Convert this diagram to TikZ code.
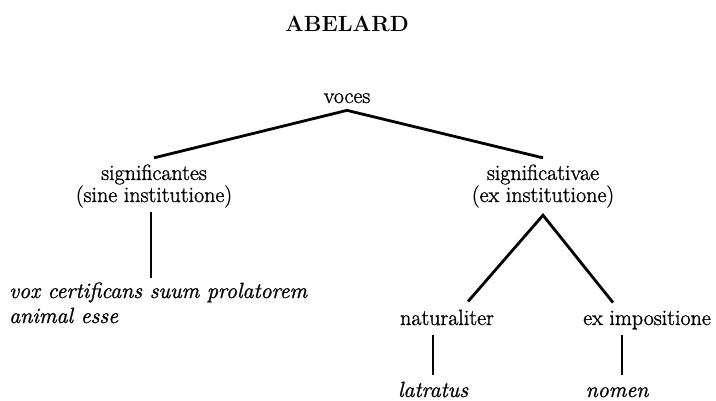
\documentclass[tikz,border=0pt]{standalone}
\usepackage{fontspec}
\setmainfont{Latin Modern Roman}[
  UprightFeatures={FakeBold=1.2},
  ItalicFeatures={FakeBold=1.2}]
\begin{document}
\begin{tikzpicture}[x=1pt,y=-1pt,
  every node/.style={inner sep=0pt, align=center},
  label text/.style={font=\fontsize{22}{22}\selectfont},
  leaf text/.style={font=\fontsize{22}{25}\selectfont\itshape},
  title text/.style={font=\fontsize{22}{24}\selectfont\bfseries},
  branch/.style={line width=2.8pt}]
\useasboundingbox (0,0) rectangle (716,401);

% heading
\node[title text, anchor=base] (title) at (347,32) {ABELARD};

% tree nodes (anchor base = baseline of the last line)
\node[label text, anchor=base] (voces) at (347,103) {voces};
\node[label text, anchor=base] (sig) at (154,202) {significantes\\(sine institutione)};
\node[label text, anchor=base] (sigv) at (543,202) {significativae\\(ex institutione)};
\node[leaf text, anchor=base west, align=left] (vox) at (9,323) {vox certificans suum prolatorem\\animal esse};
\node[label text, anchor=base] (nat) at (447,325) {naturaliter};
\node[label text, anchor=base] (exi) at (647,325) {ex impositione};
\node[leaf text, anchor=base] (latr) at (433,397) {latratus};
\node[leaf text, anchor=base] (nomen) at (617,397) {nomen};

% upper ends of the short vertical stems
\coordinate (voxtop) at ([xshift=-3pt,yshift=4pt]sig.south |- vox.north);
\coordinate (nomtop) at ([xshift=5pt,yshift=12.5pt]nomen.north);

% branches
\draw[branch] ([yshift=6.5pt]sig.north) -- ([yshift=-7pt]voces.south) -- ([yshift=6.5pt]sigv.north);
\draw[branch] ([yshift=-4.5pt]sig.south -| voxtop) -- (voxtop);
\draw[branch] ([xshift=21pt,yshift=8pt]nat.north) -- ([yshift=-7.5pt]sigv.south) -- ([xshift=-34pt,yshift=8pt]exi.north);
\draw[branch] ([yshift=-10pt]nat.south -| latr.north) -- ([yshift=7pt]latr.north);
\draw[branch] ([yshift=-5.7pt]exi.south -| nomtop) -- (nomtop);
\end{tikzpicture}
\end{document}
